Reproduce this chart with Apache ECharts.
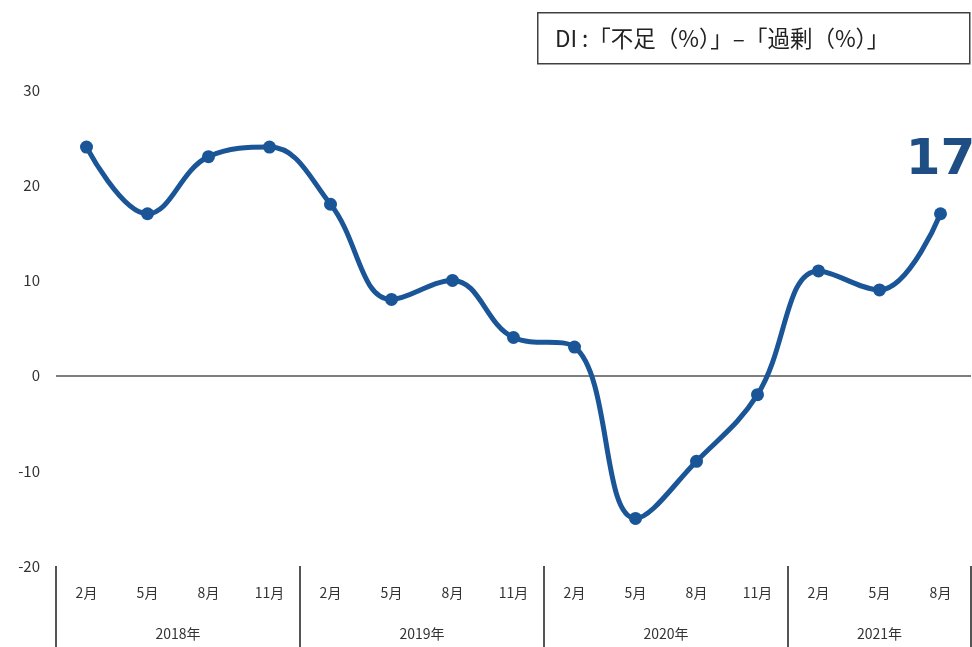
<!DOCTYPE html>
<html>
<head>
<meta charset="utf-8">
<script src="https://cdn.jsdelivr.net/npm/echarts@6/dist/echarts.min.js"></script>
<style>
html,body{margin:0;padding:0;background:#fff;}
#chart{width:972px;height:647px;}
</style>
</head>
<body>
<div id="chart"></div>
<script>
// ---- data ----
const months = ['2月','5月','8月','11月','2月','5月','8月','11月','2月','5月','8月','11月','2月','5月','8月'];
const diValues = [24, 17, 23, 24, 18, 8, 10, 4, 3, -15, -9, -2, 11, 9, 17];
const years = ['2018年','2019年','2020年','2021年'];
const monthsPerYear = [4, 4, 4, 3];
const yTicks = [-20, -10, 0, 10, 20, 30];
const legendText = 'DI :「不足（%）」–「過剰（%）」';

// derived group boundaries / centers (in category index units)
const boundaries = [-0.5];
const centers = [];
let acc = -0.5;
monthsPerYear.forEach(n => { centers.push(acc + n / 2); acc += n; boundaries.push(acc); });

const chart = echarts.init(document.getElementById('chart'));
const blue = '#1a5597';
const font = '"Noto Sans CJK JP", "Noto Sans", sans-serif';

chart.setOption({
  animation: false,
  backgroundColor: '#fff',
  grid: { left: 56, right: 1, top: 90, bottom: 81, containLabel: false },
  graphic: [
    { type: 'rect', left: 537, top: 12, shape: { width: 432, height: 51 },
      style: { fill: '#fff', stroke: '#404040', lineWidth: 1.5 } },
    { type: 'text', left: 555, top: 27,
      style: { text: legendText, fontSize: 22.5, fontFamily: font, fill: '#222' } }
  ],
  xAxis: [
    {
      type: 'category', data: months, boundaryGap: true, position: 'bottom',
      axisLine: { show: false }, axisTick: { show: false },
      axisLabel: { margin: 20, fontSize: 14, color: '#333', fontFamily: font, interval: 0 }
    },
    {
      type: 'value', min: boundaries[0], max: boundaries[boundaries.length - 1],
      position: 'bottom', splitLine: { show: false },
      axisLine: { show: false },
      axisTick: { show: true, customValues: boundaries, length: 81,
        lineStyle: { color: '#555', width: 2 } },
      axisLabel: { show: true, customValues: centers, margin: 61, fontSize: 14,
        color: '#333', fontFamily: font,
        formatter: v => { const i = centers.findIndex(c => Math.abs(c - v) < 1e-6); return i >= 0 ? years[i] : ''; } }
    }
  ],
  yAxis: {
    type: 'value', min: yTicks[0], max: yTicks[yTicks.length - 1], interval: 10,
    axisLine: { show: false }, axisTick: { show: false }, splitLine: { show: false },
    axisLabel: { margin: 16, fontSize: 15, color: '#333', fontFamily: font }
  },
  series: [{
    type: 'line', xAxisIndex: 0, data: diValues.map((v, i) => i === diValues.length - 1 ? {
      value: v, label: { show: true, position: 'top', distance: 21, formatter: '{c}',
        fontSize: 50, fontWeight: 'bold', color: '#1f4e85', fontFamily: '"DejaVu Sans", Verdana, sans-serif' }
    } : v),
    smooth: 0.4,
    symbol: 'circle', symbolSize: 13,
    lineStyle: { color: blue, width: 5 },
    itemStyle: { color: blue },
    z: 5,
    markLine: {
      silent: true, symbol: 'none', label: { show: false },
      lineStyle: { color: '#7f7f7f', width: 2, type: 'solid' },
      data: [{ yAxis: 0 }], z: 1
    }
  }]
});
</script>
</body>
</html>
